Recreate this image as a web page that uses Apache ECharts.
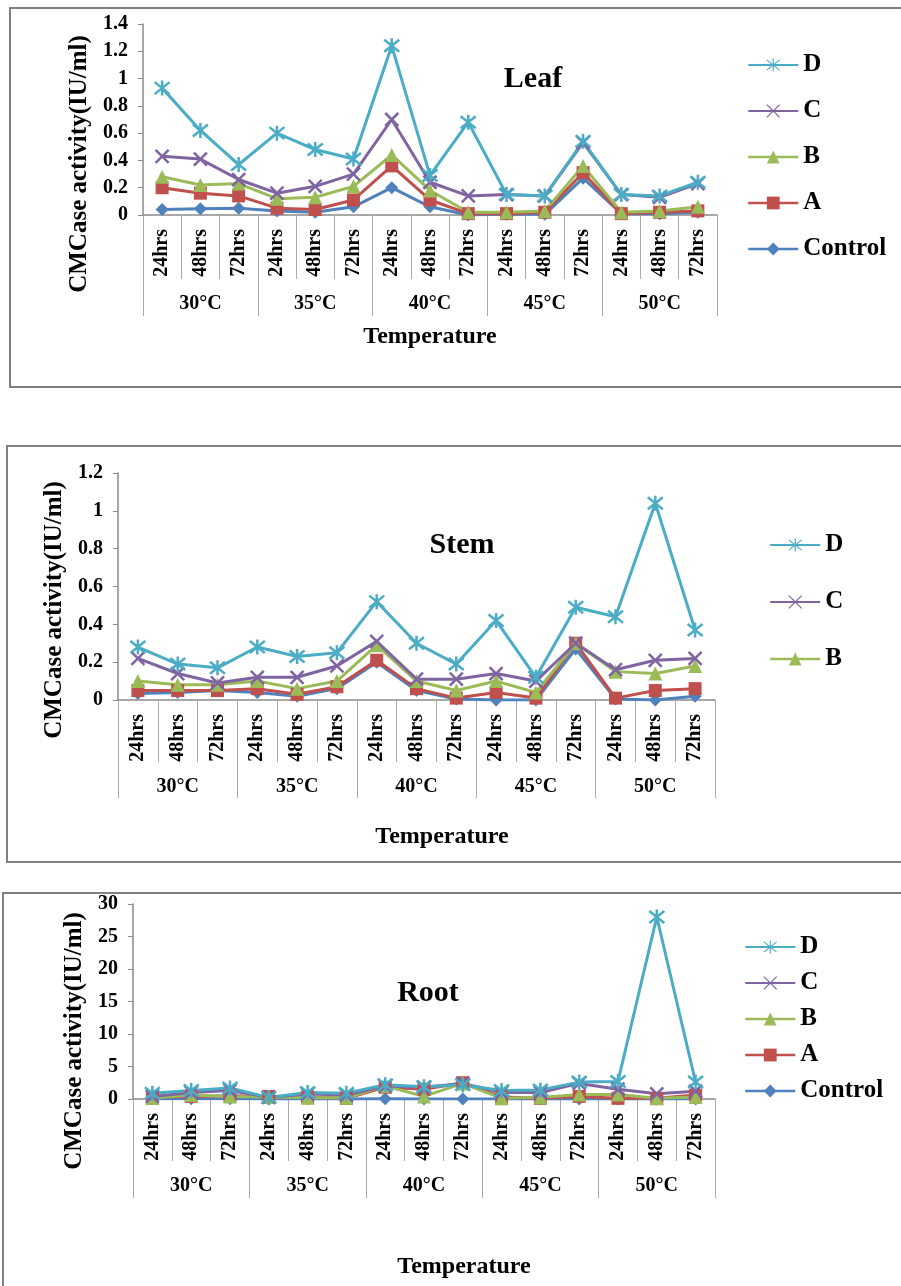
<!DOCTYPE html>
<html><head><meta charset="utf-8">
<script src="https://cdn.jsdelivr.net/npm/echarts@6/dist/echarts.min.js"></script>
<style>html,body{margin:0;padding:0;background:#fff}#c{width:901px;height:1286px}</style>
</head><body><div id="c"></div>
<script>
const hours = ['24hrs','48hrs','72hrs','24hrs','48hrs','72hrs','24hrs','48hrs','72hrs','24hrs','48hrs','72hrs','24hrs','48hrs','72hrs'];
const temps = ['30°C','35°C','40°C','45°C','50°C'];
const seriesNames = ['Control','A','B','C','D'];

const leafControl = [0.04,0.045,0.05,0.03,0.02,0.06,0.20,0.06,0.00,0.005,0.005,0.27,0.01,0.01,0.02];
const leafA = [0.20,0.16,0.14,0.05,0.04,0.11,0.36,0.11,0.01,0.01,0.02,0.31,0.01,0.02,0.03];
const leafB = [0.28,0.22,0.23,0.12,0.13,0.21,0.44,0.18,0.02,0.02,0.03,0.36,0.02,0.03,0.06];
const leafC = [0.43,0.41,0.26,0.16,0.21,0.30,0.70,0.24,0.14,0.15,0.14,0.53,0.15,0.13,0.23];
const leafD = [0.93,0.62,0.37,0.60,0.48,0.41,1.24,0.29,0.68,0.15,0.14,0.54,0.15,0.14,0.24];

const stemControl = [0.035,0.04,0.05,0.04,0.02,0.06,0.20,0.05,0.005,0,0,0.27,0.005,0,0.02];
const stemA = [0.05,0.05,0.05,0.06,0.03,0.07,0.21,0.06,0.01,0.04,0.01,0.30,0.01,0.05,0.06];
const stemB = [0.10,0.08,0.08,0.10,0.06,0.10,0.29,0.10,0.05,0.10,0.04,0.30,0.15,0.14,0.18];
const stemC = [0.22,0.14,0.09,0.12,0.12,0.18,0.31,0.11,0.11,0.14,0.10,0.30,0.16,0.21,0.22];
const stemD = [0.28,0.19,0.17,0.28,0.23,0.25,0.52,0.30,0.19,0.42,0.12,0.49,0.44,1.04,0.37];

const rootControl = [0.05,0.05,0.05,0,0,0,0.05,0,0,0,0,0,0,0,0];
const rootA = [0.3,0.4,0.5,0.4,0.3,0.1,1.8,1.5,2.5,0.3,0.1,0.4,0.1,0.1,0.6];
const rootB = [0.15,0.6,0.4,0.3,0.2,0.2,2.0,0.4,2.4,0.1,0.25,0.7,0.7,0.1,0.3];
const rootC = [0.4,1.0,1.3,0.25,0.75,0.6,2.0,1.8,2.4,1.0,1.0,2.4,1.5,0.8,1.2];
const rootD = [0.9,1.3,1.7,0.25,1.0,0.9,2.2,1.9,2.2,1.3,1.4,2.6,2.7,28.0,2.6];

const leafTicks = {min:0, max:1.4, interval:0.2};
const stemTicks = {min:0, max:1.2, interval:0.2};
const rootTicks = {min:0, max:30, interval:5};

const COLORS = {Control:'#4F81BD', A:'#C0504D', B:'#9BBB59', C:'#8064A2', D:'#4BACC6'};
const SYMBOLS = {Control:'diamond', A:'rect', B:'triangle',
  C:'path://M0,0L10,10M10,0L0,10', D:'path://M1,1L9,9M9,1L1,9M5,0L5,10'};
const SIZES = {Control:13, A:13, B:14, C:13, D:15};
const FONT = '"Liberation Serif","Times New Roman",serif';
const AXIS_GRAY = '#8a8a8a';

const panels = [
  {name:'Leaf', data:{Control:leafControl,A:leafA,B:leafB,C:leafC,D:leafD}, ticks:leafTicks,
   grid:{left:143, top:24, width:574, height:191}, band:64, band2:37,
   legend:{names:['D','C','B','A','Control'], left:747, top:52, gap:20},
   title:[533,79], xname:[430,337], yname:[80,164], box:[10,8,900,379]},
  {name:'Stem', data:{Control:stemControl,A:stemA,B:stemB,C:stemC,D:stemD}, ticks:stemTicks,
   grid:{left:118, top:473, width:597, height:227}, band:62, band2:36,
   legend:{names:['D','C','B'], left:769, top:532, gap:31},
   title:[462,545], xname:[442,837], yname:[55,610], box:[7,446,900,416]},
  {name:'Root', data:{Control:rootControl,A:rootA,B:rootB,C:rootC,D:rootD}, ticks:rootTicks,
   grid:{left:133, top:904, width:582, height:195}, band:62, band2:37,
   legend:{names:['D','C','B','A','Control'], left:744, top:934, gap:10},
   title:[428,993], xname:[464,1267], yname:[75,1041], box:[3,893,905,420]}
];

const option = {animation:false, backgroundColor:'#fff', grid:[], xAxis:[], yAxis:[], series:[], legend:[], graphic:[]};

panels.forEach((p, i) => {
  option.grid.push(Object.assign({containLabel:false}, p.grid));
  option.xAxis.push({
    type:'category', gridIndex:i, data:hours, boundaryGap:true, position:'bottom',
    axisLine:{show:true, lineStyle:{color:AXIS_GRAY, width:1.5}},
    axisTick:{show:true, interval:0, length:p.band, lineStyle:{color:'#aaa'}},
    axisLabel:{interval:0, rotate:90, margin:14, color:'#000', fontFamily:FONT, fontWeight:'bold', fontSize:20}
  });
  option.xAxis.push({
    type:'category', gridIndex:i, data:temps, boundaryGap:true, position:'bottom', offset:p.band,
    axisLine:{show:false},
    axisTick:{show:true, interval:0, length:p.band2, lineStyle:{color:'#aaa'}},
    axisLabel:{interval:0, margin:15, color:'#000', fontFamily:FONT, fontWeight:'bold', fontSize:20}
  });
  option.yAxis.push({
    type:'value', gridIndex:i, min:p.ticks.min, max:p.ticks.max, interval:p.ticks.interval,
    axisLine:{show:true, lineStyle:{color:AXIS_GRAY, width:1.5}},
    axisTick:{show:true, length:5, lineStyle:{color:AXIS_GRAY}},
    splitLine:{show:false},
    axisLabel:{margin:15, color:'#000', fontFamily:FONT, fontWeight:'bold', fontSize:20}
  });
  seriesNames.forEach(n => {
    const path = SYMBOLS[n].startsWith('path');
    option.series.push({
      type:'line', name:n, xAxisIndex:i*2, yAxisIndex:i, data:p.data[n],
      symbol:SYMBOLS[n], symbolSize:SIZES[n], showAllSymbol:true,
      lineStyle:{color:COLORS[n], width:3},
      itemStyle:{color:COLORS[n], borderColor:COLORS[n], borderWidth: path ? 2.5 : 0},
      emphasis:{disabled:true}
    });
  });
  option.legend.push({
    data:p.legend.names.map(n => (n === 'C' || n === 'D')
      ? {name:n, itemStyle:{borderWidth:1.2}, lineStyle:{width:2}}
      : {name:n, lineStyle:{width:2.5}}),
    orient:'vertical', left:p.legend.left, top:p.legend.top, padding:0,
    itemWidth:50, itemHeight:16, itemGap:p.legend.gap, selectedMode:false,
    textStyle:{color:'#000', fontFamily:FONT, fontWeight:'bold', fontSize:25, lineHeight:26}
  });
  const b = p.box;
  option.graphic.push({type:'rect', silent:true, z:-10, shape:{x:b[0], y:b[1], width:b[2], height:b[3]},
    style:{fill:'none', stroke:'#808080', lineWidth:2}});
  option.graphic.push({type:'text', silent:true, x:p.title[0], y:p.title[1],
    style:{text:p.name, font:'bold 30px ' + FONT, fill:'#000', textAlign:'center', textVerticalAlign:'middle'}});
  option.graphic.push({type:'text', silent:true, x:p.xname[0], y:p.xname[1],
    style:{text:'Temperature', font:'bold 24px ' + FONT, fill:'#000', textAlign:'center', textVerticalAlign:'middle'}});
  option.graphic.push({type:'text', silent:true, x:p.yname[0], y:p.yname[1], rotation:Math.PI/2,
    style:{text:'CMCase activity(IU/ml)', font:'bold 25px ' + FONT, fill:'#000', textAlign:'center', textVerticalAlign:'middle'}});
});

const chart = echarts.init(document.getElementById('c'), null, {renderer:'canvas'});
chart.setOption(option);
</script></body></html>
